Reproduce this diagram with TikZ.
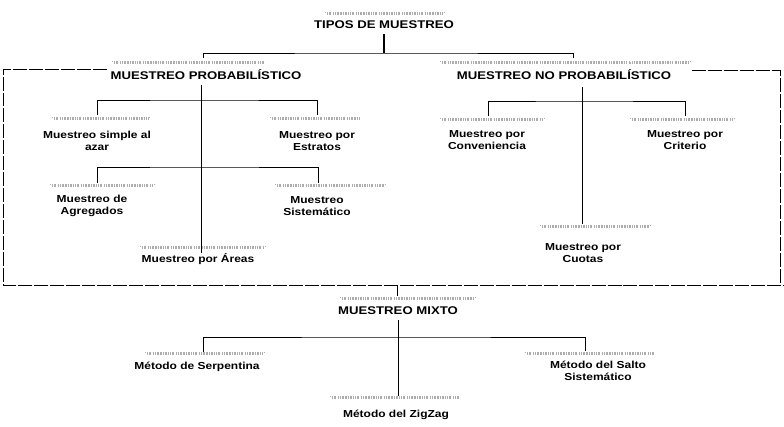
\documentclass[tikz,border=0pt]{standalone}
\usepackage{fontspec}
\setmainfont{Liberation Sans}[FakeStretch=1.18]
\begin{document}
\begin{tikzpicture}[x=1bp,y=-1bp,
  head/.style={font=\bfseries\fontsize{11.2}{13}\selectfont, inner sep=0pt},
  leaf/.style={font=\bfseries\fontsize{10.2}{11.6}\selectfont, inner sep=0pt, align=center},
  trunk/.style={line width=0.95pt},
  branch/.style={line width=0.7pt},
  frame/.style={line width=0.65pt, dash pattern=on 14pt off 2pt},
  speckle/.style={draw=black!32, line width=1.3pt,
    dash pattern=on 1.2pt off 1pt on 0.6pt off 1.6pt on 2pt off 1.3pt}]
\useasboundingbox (0,0) rectangle (784,426);
\fill[white] (0,0) rectangle (784,426);

% ---- headings and leaves ----
\node[head] (tipos) at (384,25) {TIPOS DE MUESTREO};
\node[head] (prob) at (206,75) {MUESTREO PROBABILÍSTICO};
\node[head] (noprob) at (564,75) {MUESTREO NO PROBABILÍSTICO};
\node[head] (mixto) at (398,311) {MUESTREO MIXTO};

\node[leaf] (simple) at (97,141) {Muestreo simple al\\azar};
\node[leaf] (estratos) at (317,141) {Muestreo por\\Estratos};
\node[leaf] (agregados) at (92,206) {Muestreo de\\Agregados};
\node[leaf] (sistematico) at (317,206) {Muestreo\\Sistemático};
\node[leaf] (areas) at (198,259) {Muestreo por Áreas};

\node[leaf] (conveniencia) at (487,140) {Muestreo por\\Conveniencia};
\node[leaf] (criterio) at (685,140) {Muestreo por\\Criterio};
\node[leaf] (cuotas) at (583,253) {Muestreo por\\Cuotas};

\node[leaf] (serpentina) at (197,367) {Método de Serpentina};
\node[leaf] (salto) at (598,371) {Método del Salto\\Sistemático};
\node[leaf] (zigzag) at (396,415) {Método del ZigZag};

% ---- faded rules above each label (two staggered rows of grain) ----
\foreach \xa/\xb/\yy in {325/445/13, 112/265/62, 440/690/62,
    52/150/118, 270/360/118, 50/155/185, 275/385/185, 140/265/247,
    440/545/119, 630/735/119, 540/650/226,
    340/475/298, 145/265/353, 525/655/353, 330/460/397}
{
  \draw[speckle] (\xa,\yy-0.8) -- (\xb,\yy-0.8);
  \draw[speckle, dash phase=2pt] (\xa+2,\yy+1) -- (\xb-1,\yy+1);
}

% ---- attachment points ----
\coordinate (tipos-out) at (384,34);
\coordinate (prob-in) at (203,58);
\coordinate (noprob-in) at (573,58);
\coordinate (prob-out) at (201,85);
\coordinate (prob-end) at (201,253);
\coordinate (simple-in) at (97,115);
\coordinate (estratos-in) at (317,115);
\coordinate (agregados-in) at (97,183);
\coordinate (sistematico-in) at (318,183);
\coordinate (noprob-out) at (582,87);
\coordinate (cuotas-in) at (582,224);
\coordinate (conveniencia-in) at (488,116);
\coordinate (criterio-in) at (685,116);
\coordinate (mixto-in) at (397,296);
\coordinate (mixto-out) at (398,320);
\coordinate (zigzag-in) at (398,396);
\coordinate (serpentina-in) at (203,352);
\coordinate (salto-in) at (585,351);

% ---- connectors ----
\draw[trunk, line width=1.2pt] (tipos-out) -- (384,53);
\draw[branch] (prob-in) |- (384,53) -| (noprob-in);

\draw[trunk] (prob-out) -- (prob-end);
\draw[branch] (simple-in) |- (201,100) -| (estratos-in);
\draw[branch] (agregados-in) |- (201,167) -| (sistematico-in);

\draw[trunk] (noprob-out) -- (cuotas-in);
\draw[branch] (conveniencia-in) |- (582,101) -| (criterio-in);

\draw[trunk] (mixto-out) -- (zigzag-in);
\draw[branch] (serpentina-in) |- (398,337) -| (salto-in);

% ---- frame around the two main groups ----
\draw[frame] (107,69) -| (3,285) -- (784,285);
\draw[frame] (692,70) -| (780,285);
\draw[trunk] (397,285) -- (mixto-in);
\end{tikzpicture}
\end{document}
